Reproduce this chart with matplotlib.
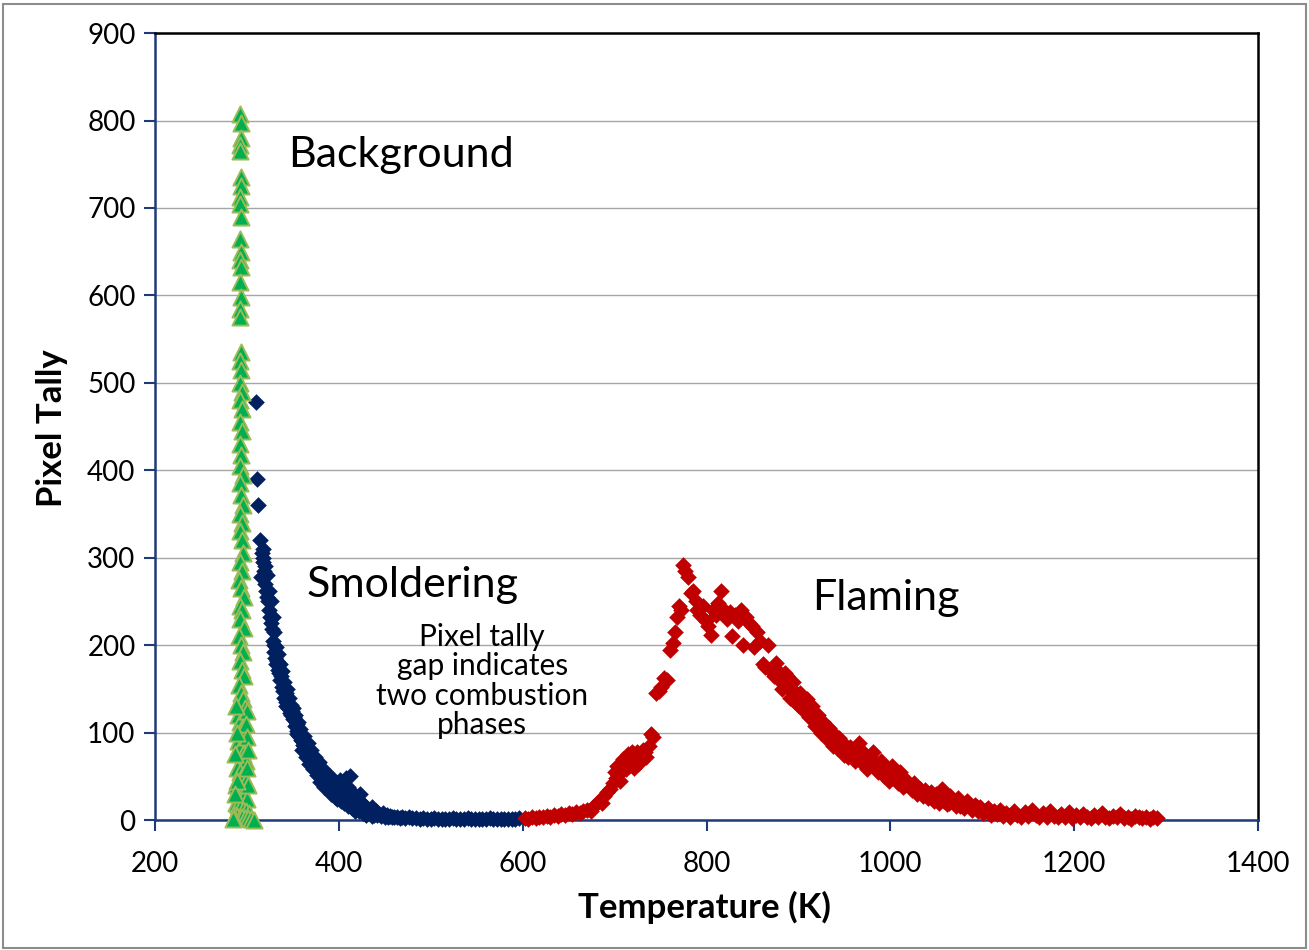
import matplotlib
matplotlib.use("Agg")
import matplotlib.pyplot as plt
import numpy as np
from matplotlib.patches import Rectangle

plt.rcParams["font.family"] = ["Lato", "DejaVu Sans"]

# (temperature K, pixel tally)
background_pts = [
    (293, 808), (293.5, 797), (294, 780), (292.5, 772), (293, 765), (293.5, 735),
    (294, 725), (292.5, 712), (293, 705), (293.5, 690), (293, 665), (294, 650),
    (292.5, 640), (293.5, 632), (293, 615), (294, 598), (292.5, 585), (293, 575),
    (293.5, 535), (292.5, 525), (294, 515), (293, 500), (295, 490), (292, 480),
    (294.5, 470), (293, 455), (295, 445), (292, 430), (294, 418), (293, 405),
    (295.5, 395), (292.5, 385), (294, 372), (296, 360), (293, 350), (295, 340),
    (292, 330), (294.5, 320), (296, 305), (293, 295), (295, 285), (291.5, 275),
    (294, 265), (296.5, 255), (292, 245), (295, 240), (293, 230), (297, 220),
    (291.5, 210), (294, 200), (296, 192), (292, 182), (295, 172), (297, 165),
    (291, 155), (293.5, 145), (296, 138), (298, 128), (290, 120), (292.5, 112),
    (295, 105), (297.5, 98), (290.5, 90), (293, 82), (296, 75), (298.5, 68),
    (289.5, 60), (292, 55), (295, 50), (299, 45), (288.5, 40), (291, 35),
    (294, 30), (297, 27), (300, 24), (288, 20), (290.5, 17), (293, 14),
    (296, 12), (299, 10), (302, 8), (287, 6), (289.5, 5), (292, 4),
    (295, 3), (298, 2), (301, 2), (304, 1), (286, 2), (285, 1), (308, 0.5),
    (300, 125), (299, 110), (300, 95), (301, 80), (300, 60), (301, 40),
    (288, 130), (289, 100), (287.5, 75), (289, 45), (287, 30),
]

smolder_pts = [
    (310, 478), (311, 390), (312, 360), (314, 320), (315, 278), (316, 305),
    (317, 300), (318, 295), (319, 285), (320, 270), (321, 262), (322, 255),
    (323, 250), (324, 240), (325, 232), (326, 225), (327, 218), (328, 205),
    (329, 200), (330, 192), (331, 185), (332, 178), (333, 182), (334, 172),
    (335, 168), (336, 160), (337, 165), (338, 152), (339, 148), (340, 140),
    (341, 150), (342, 145), (343, 135), (344, 138), (345, 128), (346, 132),
    (347, 122), (348, 120), (349, 125), (350, 115), (351, 118), (352, 108),
    (353, 112), (354, 110), (355, 102), (356, 100), (357, 96), (358, 95),
    (359, 92), (360, 90), (361, 86), (362, 85), (363, 80), (364, 82),
    (365, 83), (366, 78), (367, 74), (368, 72), (369, 75), (370, 70),
    (371, 66), (372, 68), (373, 64), (374, 62), (375, 58), (376, 60),
    (377, 65), (378, 55), (379, 52), (380, 52), (381, 48), (382, 50),
    (383, 46), (384, 45), (385, 42), (386, 48), (387, 46), (388, 42),
    (389, 38), (390, 40), (391, 36), (392, 45), (393, 34), (394, 38),
    (395, 32), (396, 35), (397, 30), (398, 42), (399, 28), (400, 30),
    (401, 46), (402, 35), (403, 26), (404, 28), (405, 24), (406, 32),
    (407, 22), (408, 48), (409, 20), (410, 38), (411, 24), (412, 50),
    (413, 18), (414, 22), (415, 16), (416, 30), (417, 14), (418, 20),
    (419, 12), (420, 18), (421, 15), (422, 22), (423, 30), (424, 15),
    (425, 10), (426, 18), (427, 8), (428, 12), (429, 7), (430, 14),
    (432, 10), (434, 8), (436, 15), (438, 6), (440, 10), (442, 6),
    (444, 7), (446, 5), (448, 8), (450, 4), (452, 6), (454, 4),
    (456, 5), (458, 3), (460, 4), (463, 3), (466, 2), (469, 3),
    (472, 2), (476, 3), (480, 2), (484, 2), (488, 1), (492, 2),
    (496, 1), (500, 1), (504, 2), (508, 1), (512, 1), (516, 1),
    (520, 1), (524, 2), (528, 1), (532, 1), (536, 1), (540, 2),
    (544, 1), (548, 1), (552, 1), (556, 1), (560, 1), (564, 2),
    (568, 1), (572, 1), (576, 1), (580, 1), (584, 1), (588, 1),
    (592, 1), (596, 2),
    (318, 310), (320, 290), (322, 280), (324, 262), (326, 250), (328, 232),
    (330, 215), (332, 198), (334, 190), (336, 178), (338, 170), (340, 158),
    (342, 130), (344, 150), (346, 140), (348, 132), (350, 128), (352, 120),
    (354, 98), (356, 112), (358, 104), (360, 80), (362, 96), (364, 72),
    (366, 88), (368, 64), (370, 80), (372, 58), (374, 72), (376, 52),
    (378, 66), (380, 44), (382, 60), (384, 38), (386, 54), (388, 35),
    (390, 50), (392, 30), (394, 46), (396, 26), (398, 24), (400, 40),
    (402, 22), (404, 38), (406, 20), (408, 30), (410, 16), (412, 28),
    (414, 14), (416, 24), (418, 10), (420, 22), (422, 10), (424, 20),
    (426, 8), (428, 16), (430, 6), (433, 12), (436, 5), (439, 9),
]

flaming_pts = [
    (602, 2), (606, 1), (610, 3), (614, 2), (618, 4), (622, 3), (626, 5),
    (630, 4), (634, 6), (638, 5), (642, 7), (646, 6), (650, 8), (654, 7),
    (658, 9), (662, 8), (666, 10), (670, 12), (674, 10), (677, 15), (680, 18),
    (683, 22), (686, 20), (689, 28), (692, 32), (695, 36), (698, 42), (701, 48),
    (704, 52), (707, 58), (710, 65), (713, 70), (716, 62), (719, 78), (722, 72),
    (725, 68), (728, 75), (731, 80), (734, 72), (737, 85), (740, 98), (742, 95),
    (745, 145), (748, 148), (751, 152), (754, 162), (757, 160), (760, 195),
    (763, 202), (766, 215), (768, 232), (770, 245), (772, 240), (774, 292),
    (777, 285), (780, 278), (783, 260), (785, 262), (788, 250), (790, 240),
    (793, 235), (796, 245), (799, 228), (802, 222), (805, 212), (807, 240),
    (810, 235), (813, 248), (816, 262), (819, 240), (822, 230), (825, 238),
    (828, 210), (831, 235), (834, 228), (837, 240), (840, 200), (843, 232),
    (846, 225), (849, 222), (852, 198), (855, 215), (858, 205), (861, 178),
    (864, 175), (867, 200), (870, 170), (873, 165), (876, 180), (879, 160),
    (882, 150), (885, 168), (888, 165), (891, 140), (894, 158), (897, 145),
    (900, 132), (903, 140), (906, 125), (909, 138), (912, 118), (915, 130),
    (918, 108), (921, 120), (924, 100), (927, 112), (930, 95), (933, 105),
    (936, 88), (939, 98), (942, 82), (945, 90), (948, 78), (951, 86),
    (954, 72), (957, 80), (960, 70), (963, 76), (966, 88), (969, 65),
    (972, 72), (975, 58), (978, 66), (981, 78), (984, 60), (987, 55),
    (990, 68), (993, 50), (996, 58), (999, 45), (1002, 62), (1005, 48),
    (1008, 42), (1011, 55), (1014, 38), (1017, 46), (1020, 40), (1023, 34),
    (1026, 42), (1029, 30), (1032, 36), (1035, 28), (1038, 34), (1041, 25),
    (1044, 32), (1047, 22), (1050, 30), (1053, 20), (1056, 35), (1059, 26),
    (1062, 18), (1065, 28), (1068, 22), (1071, 16), (1074, 25), (1077, 20),
    (1080, 14), (1083, 22), (1086, 18), (1089, 12), (1092, 17), (1095, 10),
    (1098, 15), (1101, 8), (1104, 12), (1107, 9), (1110, 6), (1113, 10),
    (1116, 7), (1119, 12), (1122, 5), (1126, 8), (1130, 3), (1134, 10),
    (1138, 6), (1142, 4), (1146, 9), (1150, 5), (1154, 12), (1158, 6),
    (1162, 4), (1166, 8), (1170, 3), (1174, 10), (1178, 5), (1182, 3),
    (1186, 7), (1190, 4), (1194, 9), (1198, 2), (1202, 6), (1206, 3),
    (1210, 7), (1214, 4), (1218, 2), (1222, 6), (1226, 3), (1230, 8),
    (1234, 4), (1238, 2), (1242, 5), (1246, 3), (1250, 7), (1254, 2),
    (1258, 4), (1262, 1), (1266, 5), (1270, 3), (1274, 2), (1278, 4),
    (1282, 1), (1286, 3), (1290, 2),
    (700, 55), (703, 62), (706, 45), (709, 70), (712, 58), (715, 75),
    (718, 66), (721, 60), (724, 78), (727, 65), (730, 70), (733, 78),
    (878, 170), (884, 158), (890, 150), (896, 135), (902, 145), (908, 128),
    (914, 120), (920, 110), (926, 102), (932, 92), (938, 85), (944, 94),
    (950, 74), (956, 84), (962, 68), (968, 80), (974, 62), (980, 70),
    (986, 62), (992, 56), (998, 52), (1004, 55), (1010, 44), (1016, 40),
    (1022, 38), (1028, 35), (1034, 32), (1040, 30), (1046, 27), (1052, 26),
    (1058, 22), (1064, 20), (1070, 22), (1076, 16), (1082, 18), (1088, 14),
    (1094, 15), (1100, 11), (1106, 14), (1112, 9), (1118, 8),
]

x_ticks = [200, 400, 600, 800, 1000, 1200, 1400]
y_ticks = [0, 100, 200, 300, 400, 500, 600, 700, 800, 900]

NAVY = "#002060"
AXIS_BLUE = "#1f3a78"


def main():
    fig = plt.figure(figsize=(13.09, 9.5), dpi=100)
    fig.patch.set_facecolor("white")
    fig.patches.append(
        Rectangle((0.002, 0.002), 0.996, 0.994, transform=fig.transFigure,
                  fill=False, edgecolor="#8c8c8c", linewidth=1.5)
    )

    ax = fig.add_axes([0.1184, 0.1368, 0.8427, 0.8284])
    ax.set_xlim(200, 1400)
    ax.set_ylim(0, 900)

    sm = np.array(smolder_pts)
    fl = np.array(flaming_pts)
    bg = np.array(background_pts)
    ax.scatter(sm[:, 0], sm[:, 1], marker="D", s=72, color=NAVY,
               linewidths=0, zorder=3, clip_on=False)
    ax.scatter(fl[:, 0], fl[:, 1], marker="D", s=72, color="#c00000",
               linewidths=0, zorder=3, clip_on=False)
    ax.scatter(bg[:, 0], bg[:, 1], marker="^", s=135, facecolor="#00b050",
               edgecolor="#9bbb59", linewidths=1.4, zorder=4, clip_on=False)

    ax.set_xticks(x_ticks)
    ax.set_yticks(y_ticks)
    ax.yaxis.grid(True, color="#a6a6a6", linewidth=1.0)
    ax.set_axisbelow(True)
    ax.tick_params(axis="both", direction="out", length=8, width=1.5,
                   color=AXIS_BLUE, labelsize=20, pad=6)
    ax.tick_params(axis="x", pad=14)
    for s in ("left", "bottom"):
        ax.spines[s].set_color(AXIS_BLUE)
        ax.spines[s].set_linewidth(1.8)
    for s in ("top", "right"):
        ax.spines[s].set_color("black")
        ax.spines[s].set_linewidth(1.8)

    fig.text(0.5385, 0.045, "Temperature (K)", ha="center", va="center",
             fontsize=25, fontweight="bold")
    fig.text(0.040, 0.549, "Pixel Tally", ha="center", va="center",
             rotation=90, fontsize=25, fontweight="bold")

    ax.text(345, 760, "Background", fontsize=31, va="center", ha="left")
    ax.text(365, 269, "Smoldering", fontsize=31, va="center", ha="left")
    ax.text(915, 254, "Flaming", fontsize=31, va="center", ha="left")
    ax.text(556, 159, "Pixel tally\ngap indicates\ntwo combustion\nphases",
            fontsize=21.5, ha="center", va="center", linespacing=1.05)

    fig.savefig("out.png", dpi=100)


if __name__ == "__main__":
    main()
